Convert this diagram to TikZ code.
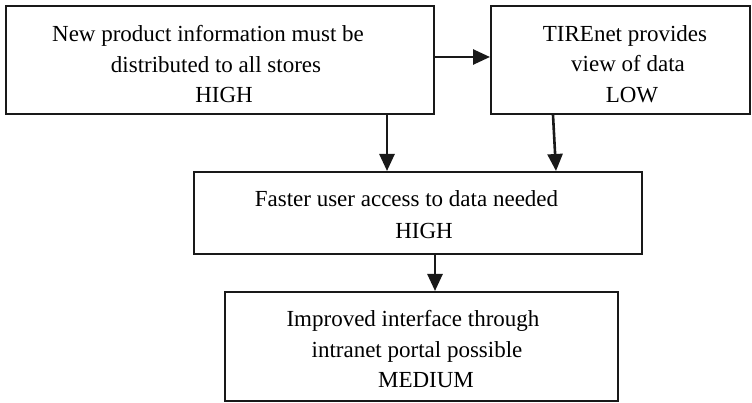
\documentclass[tikz,border=0pt]{standalone}
\usepackage{fontspec}
\setmainfont{Liberation Serif}
\usetikzlibrary{arrows.meta}
% one text line moved sideways by #1 pt without changing its centred width
\newcommand\nudge[2]{\hbox{\kern#1pt\relax#2\kern-#1pt\relax}}
\begin{document}
\begin{tikzpicture}[x=1pt,y=-1pt,
  box/.style={draw=black!90, line width=2pt, inner sep=0pt, align=center,
    font=\fontsize{23}{30.5}\selectfont},
  arr/.style={draw=black!90, line width=2.6pt, -{Triangle[length=17pt,width=15pt]}}]
  \useasboundingbox (0,0) rectangle (752,403);

  % boxes: centre, width, height
  \node[box, minimum width=428pt, minimum height=108pt] (b1) at (220,60) {};
  \node[box, minimum width=259pt, minimum height=108pt] (b2) at (620.5,60) {};
  \node[box, minimum width=448pt, minimum height=82pt] (b3) at (418,213) {};
  \node[box, minimum width=393pt, minimum height=109pt] (b4) at (421.5,346.5) {};

  % texts
  \node[box, draw=none, yshift=-4.5pt] (t1) at (b1)
    {\nudge{-12}{New product information must be}\\
     \nudge{-4}{distributed to all stores}\\
     \nudge{4}{HIGH}};
  \node[box, draw=none, yshift=-4pt] (t2) at (b2)
    {\nudge{4.5}{TIREnet provides}\\
     \nudge{7.5}{view of data}\\
     \nudge{11.5}{LOW}};
  \node[box, draw=none, yshift=-1.5pt, font=\fontsize{23}{31.5}\selectfont] (t3) at (b3)
    {\nudge{-11.5}{Faster user access to data needed}\\
     \nudge{6}{HIGH}};
  \node[box, draw=none, yshift=-3pt] (t4) at (b4)
    {\nudge{-8.5}{Improved interface through}\\
     \nudge{-4.5}{intranet portal possible}\\
     \nudge{4.5}{MEDIUM}};

  % connector positions
  \coordinate (h) at (0,57);
  \coordinate (v1) at (387,0);
  \coordinate (v2t) at (553,0);
  \coordinate (v2b) at (556,0);
  \coordinate (v3) at (435,0);

  \draw[arr] (b1.east |- h) -- (b2.west |- h);
  \draw[arr] (b1.south -| v1) -- (b3.north -| v1);
  \draw[arr] (b2.south -| v2t) -- (b3.north -| v2b);
  \draw[arr] (b3.south -| v3) -- (b4.north -| v3);
\end{tikzpicture}
\end{document}
